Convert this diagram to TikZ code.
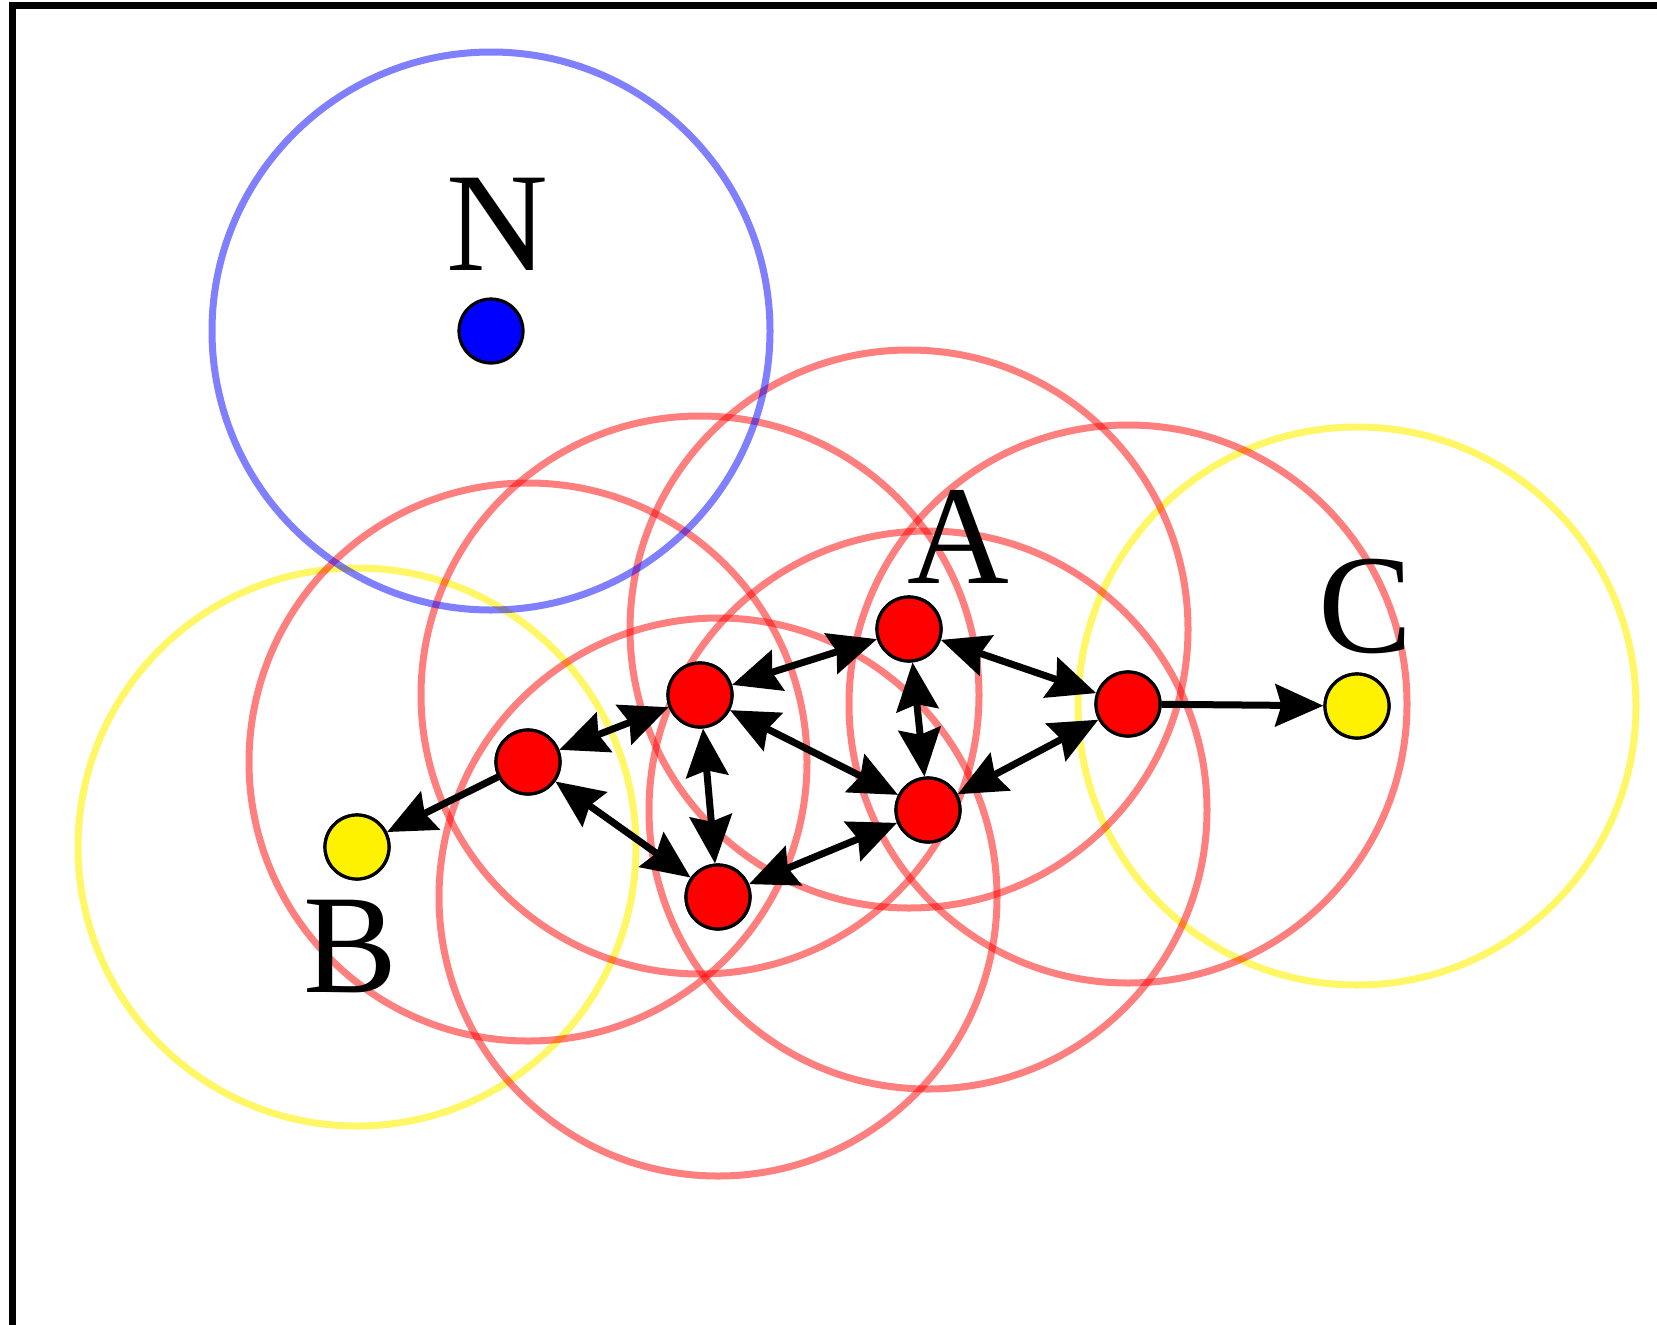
\documentclass[tikz,border=0pt]{standalone}
\usepackage{fontspec}
\setmainfont{Liberation Serif}
\usetikzlibrary{arrows.meta}
\begin{document}
\begin{tikzpicture}[x=1pt,y=-1pt,
  dot/.style={circle,draw=black,line width=3.2pt,minimum size=64pt,inner sep=0pt},
  corept/.style={dot,fill=red},
  borderpt/.style={dot,fill=yellow},
  noisept/.style={dot,fill=blue},
  ring/.style={line width=7pt},
  corering/.style={ring,draw=red,draw opacity=0.5},
  borderring/.style={ring,draw=yellow,draw opacity=0.6},
  noisering/.style={ring,draw=blue,draw opacity=0.5},
  link/.style={line width=7pt,arrows={Stealth[length=48pt,width=42pt,inset=6pt]-Stealth[length=48pt,width=42pt,inset=6pt]}},
  oneway/.style={line width=7pt,arrows={-Stealth[length=48pt,width=42pt,inset=6pt]}},
  lab/.style={anchor=base,inner sep=0pt,font=\fontsize{141}{141}\selectfont}
]
\useasboundingbox (0,0) rectangle (1657,1325);
\fill[white] (0,0) rectangle (1657,1325);
\begin{scope}
\clip (0,0) rectangle (1657,1325);
\draw[line width=7pt] (12,1400) -- (12,5.5) -- (1700,5.5);
\end{scope}

% neighbourhood rings
\coordinate (cN) at (491,331);
\coordinate (c1) at (528,762);
\coordinate (c2) at (700,695);
\coordinate (c3) at (909,629);
\coordinate (c4) at (1128,704);
\coordinate (c5) at (928,810);
\coordinate (c6) at (718,897);
\coordinate (cB) at (357,847);
\coordinate (cC) at (1357,706);

\draw[borderring] (cB) circle[radius=279];
\draw[borderring] (cC) circle[radius=279];
\foreach \c in {c1,c2,c3,c4,c5,c6}
  \draw[corering] (\c) circle[radius=279];
\draw[noisering] (cN) circle[radius=279];

% points
\node[noisept] (N) at (cN) {};
\node[corept] (R1) at (c1) {};
\node[corept] (R2) at (c2) {};
\node[corept] (A) at (c3) {};
\node[corept] (R4) at (c4) {};
\node[corept] (R5) at (c5) {};
\node[corept] (R6) at (c6) {};
\node[borderpt] (B) at (cB) {};
\node[borderpt] (C) at (cC) {};

% connectors
\draw[oneway] (R1) -- (B);
\draw[link] (R1) -- (R2);
\draw[link] (R1) -- (R6);
\draw[link] (R2) -- (A);
\draw[link] (R2) -- (R6);
\draw[link] (R2) -- (R5);
\draw[link] (A) -- (R5);
\draw[link] (A) -- (R4);
\draw[link] (R5) -- (R4);
\draw[link] (R6) -- (R5);
\draw[oneway] (R4) -- (C);

% redraw points on top
\foreach \n/\s in {R1/corept,R2/corept,A/corept,R4/corept,R5/corept,R6/corept,B/borderpt,C/borderpt}
  \node[\s] at (\n.center) {};

% labels
\node[lab] (labN) at (497,270) {N};
\node[lab] (labA) at (958,583) {A};
\node[lab] (labC) at (1366,652) {C};
\node[lab] (labB) at (351,992) {B};
\end{tikzpicture}
\end{document}
